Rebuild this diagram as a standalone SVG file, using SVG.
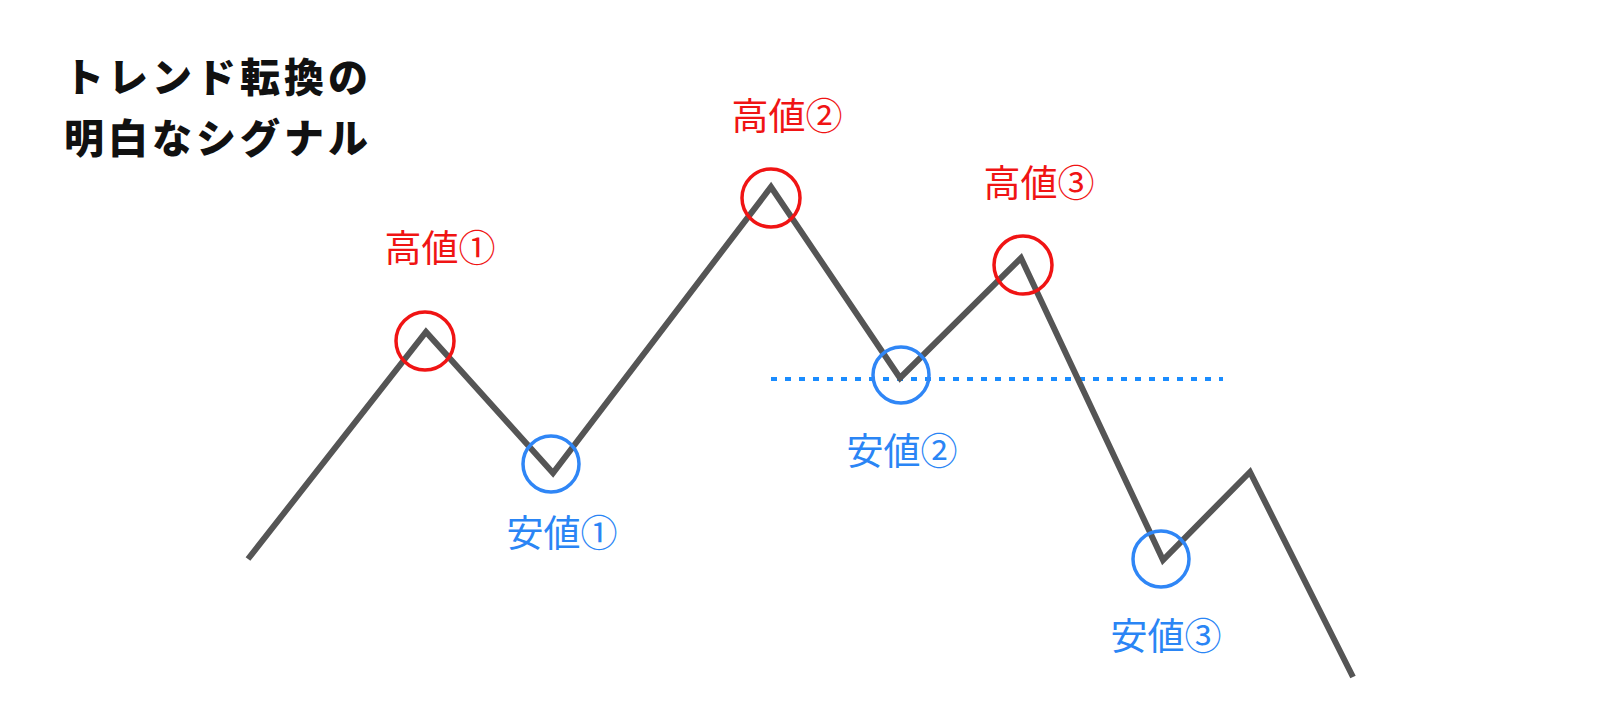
<svg xmlns="http://www.w3.org/2000/svg" width="1600" height="728" viewBox="0 0 1600 728">
<style>
.title{font-family:"Noto Sans CJK JP","Noto Sans",sans-serif;font-weight:900;font-size:40px;letter-spacing:4px;fill:#111}
.lbl{font-family:"Noto Sans CJK JP","Noto Sans",sans-serif;font-size:37px;text-anchor:middle}
.hi{fill:#f01414}
.lo{fill:#2a85f5}
.chi{fill:none;stroke:#f01414;stroke-width:3.5}
.clo{fill:none;stroke:#2f86f6;stroke-width:3.5}
.price{fill:none;stroke:#555;stroke-width:6;stroke-linejoin:miter}
.sup{stroke:#1a8cff;stroke-width:4;stroke-dasharray:6 8}
</style>
<rect width="1600" height="728" fill="#fff"/>
<g id="title">
<text class="title" x="64" y="92">トレンド転換の</text>
<text class="title" x="64" y="153">明白なシグナル</text>
</g>
<g id="connectors">
<line class="sup" x1="771" y1="379" x2="1223" y2="379"/>
<polyline class="price" points="248,559 426,332 553,473 771,187 900,378 1021,258 1163,560 1250,472 1353,677"/>
</g>
<g id="high1"><circle class="chi" cx="425" cy="341" r="29"/><text class="lbl hi" x="440" y="262">高値①</text></g>
<g id="low1"><circle class="clo" cx="551" cy="464" r="28"/><text class="lbl lo" x="562" y="547">安値①</text></g>
<g id="high2"><circle class="chi" cx="771" cy="198" r="29"/><text class="lbl hi" x="787" y="130">高値②</text></g>
<g id="low2"><circle class="clo" cx="901" cy="375" r="28"/><text class="lbl lo" x="902" y="465">安値②</text></g>
<g id="high3"><circle class="chi" cx="1023" cy="265" r="29"/><text class="lbl hi" x="1039" y="197">高値③</text></g>
<g id="low3"><circle class="clo" cx="1161" cy="559" r="28"/><text class="lbl lo" x="1166" y="650">安値③</text></g>
</svg>
